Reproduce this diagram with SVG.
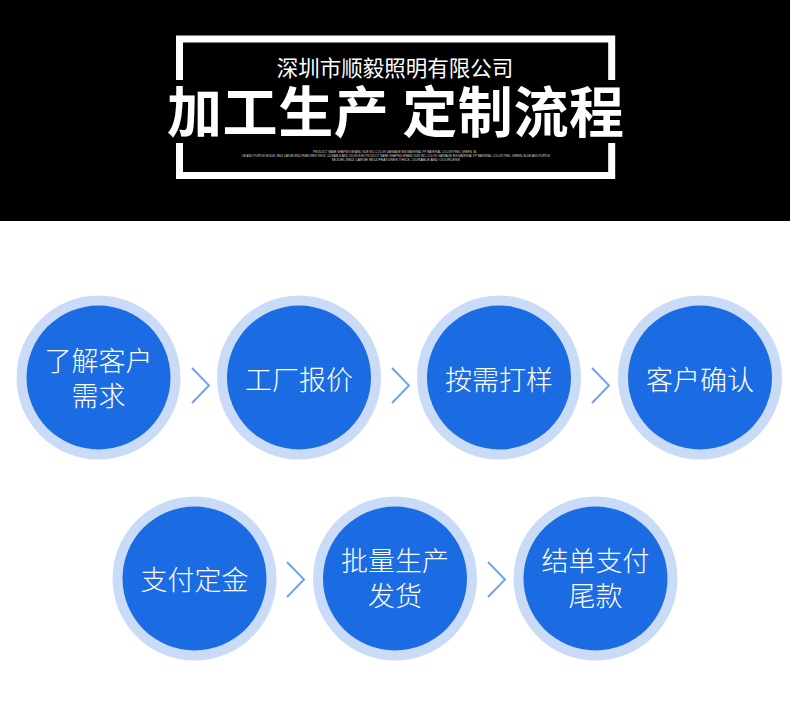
<svg xmlns="http://www.w3.org/2000/svg" width="790" height="709" viewBox="0 0 790 709">
<style>
.ring{fill:#c9dbf6}
.core{fill:#1b6be2}
.lbl{font-family:"Noto Sans CJK SC","Noto Sans",sans-serif;font-size:27px;font-weight:300;fill:#ffffff;text-anchor:middle}
.chev{fill:none;stroke:#6fa3ee;stroke-width:2}
.frame{fill:none;stroke:#ffffff;stroke-width:7}
.tiny{font-family:"Liberation Sans",Arial,sans-serif;font-size:3.6px;fill:#d8d8d8;text-anchor:middle}
</style>
<rect x="0" y="0" width="790" height="709" fill="#ffffff"/>
<g id="header">
<rect x="0" y="0" width="790" height="221" fill="#000000"/>
<path class="frame" d="M179.5 80 V39 H611.7 V80 M179.5 143 V175.5 H611.7 V143"/>
<text style="font-family:'Noto Sans CJK SC','Noto Sans',sans-serif;fill:#ffffff"><tspan x="395" y="76" style="font-size:21.5px;text-anchor:middle">深圳市顺毅照明有限公司</tspan><tspan x="167" y="132" textLength="457" lengthAdjust="spacing" style="font-size:55px;font-weight:700">加工生产 定制流程</tspan></text>
<text class="tiny"><tspan x="395" y="152.5" textLength="164" lengthAdjust="spacingAndGlyphs">PRODUCT NAME SHAPING BRAND SIZE INC COLOR GARBAGE BIN MATERIAL PP MATERIAL COLOR PINK, GREEN, BL</tspan><tspan x="396" y="156.5" textLength="308" lengthAdjust="spacingAndGlyphs">UE AND PURPLE MODEL 8802 LARGE 8814 FEATURES THICK, DURABLE AND ODORLESS PRODUCT NAME SHAPING BRAND SIZE INC COLOR GARBAGE BIN MATERIAL PP MATERIAL COLOR PINK, GREEN, BLUE AND PURPLE</tspan><tspan x="396" y="160.5" textLength="128" lengthAdjust="spacingAndGlyphs">MODEL 8802 LARGE 8814 FEATURES THICK, DURABLE AND ODORLESS</tspan></text>
</g>
<g id="connectors">
<path class="chev" d="M192 368 L209 385.5 L192 403"/>
<path class="chev" d="M392 368 L409 385.5 L392 403"/>
<path class="chev" d="M592 368 L609 385.5 L592 403"/>
<path class="chev" d="M287 562 L304 579.5 L287 597"/>
<path class="chev" d="M488 562 L505 579.5 L488 597"/>
</g>
<g id="step1">
<circle class="ring" cx="98.5" cy="377.5" r="82"/>
<circle class="core" cx="98.5" cy="377.5" r="72"/>
<text class="lbl"><tspan x="98.5" y="371">了解客户</tspan><tspan x="98.5" y="406">需求</tspan></text>
</g>
<g id="step2">
<circle class="ring" cx="299" cy="377.5" r="82"/>
<circle class="core" cx="299" cy="377.5" r="72"/>
<text class="lbl" x="299" y="389.5">工厂报价</text>
</g>
<g id="step3">
<circle class="ring" cx="499" cy="377.5" r="82"/>
<circle class="core" cx="499" cy="377.5" r="72"/>
<text class="lbl" x="499" y="389.5">按需打样</text>
</g>
<g id="step4">
<circle class="ring" cx="700" cy="377.5" r="82"/>
<circle class="core" cx="700" cy="377.5" r="72"/>
<text class="lbl" x="700" y="389.5">客户确认</text>
</g>
<g id="step5">
<circle class="ring" cx="194.5" cy="578.5" r="82"/>
<circle class="core" cx="194.5" cy="578.5" r="72"/>
<text class="lbl" x="194.5" y="590">支付定金</text>
</g>
<g id="step6">
<circle class="ring" cx="395" cy="578.5" r="82"/>
<circle class="core" cx="395" cy="578.5" r="72"/>
<text class="lbl"><tspan x="395" y="571">批量生产</tspan><tspan x="395" y="606">发货</tspan></text>
</g>
<g id="step7">
<circle class="ring" cx="595.5" cy="578.5" r="82"/>
<circle class="core" cx="595.5" cy="578.5" r="72"/>
<text class="lbl"><tspan x="595.5" y="571">结单支付</tspan><tspan x="595.5" y="606">尾款</tspan></text>
</g>
</svg>
